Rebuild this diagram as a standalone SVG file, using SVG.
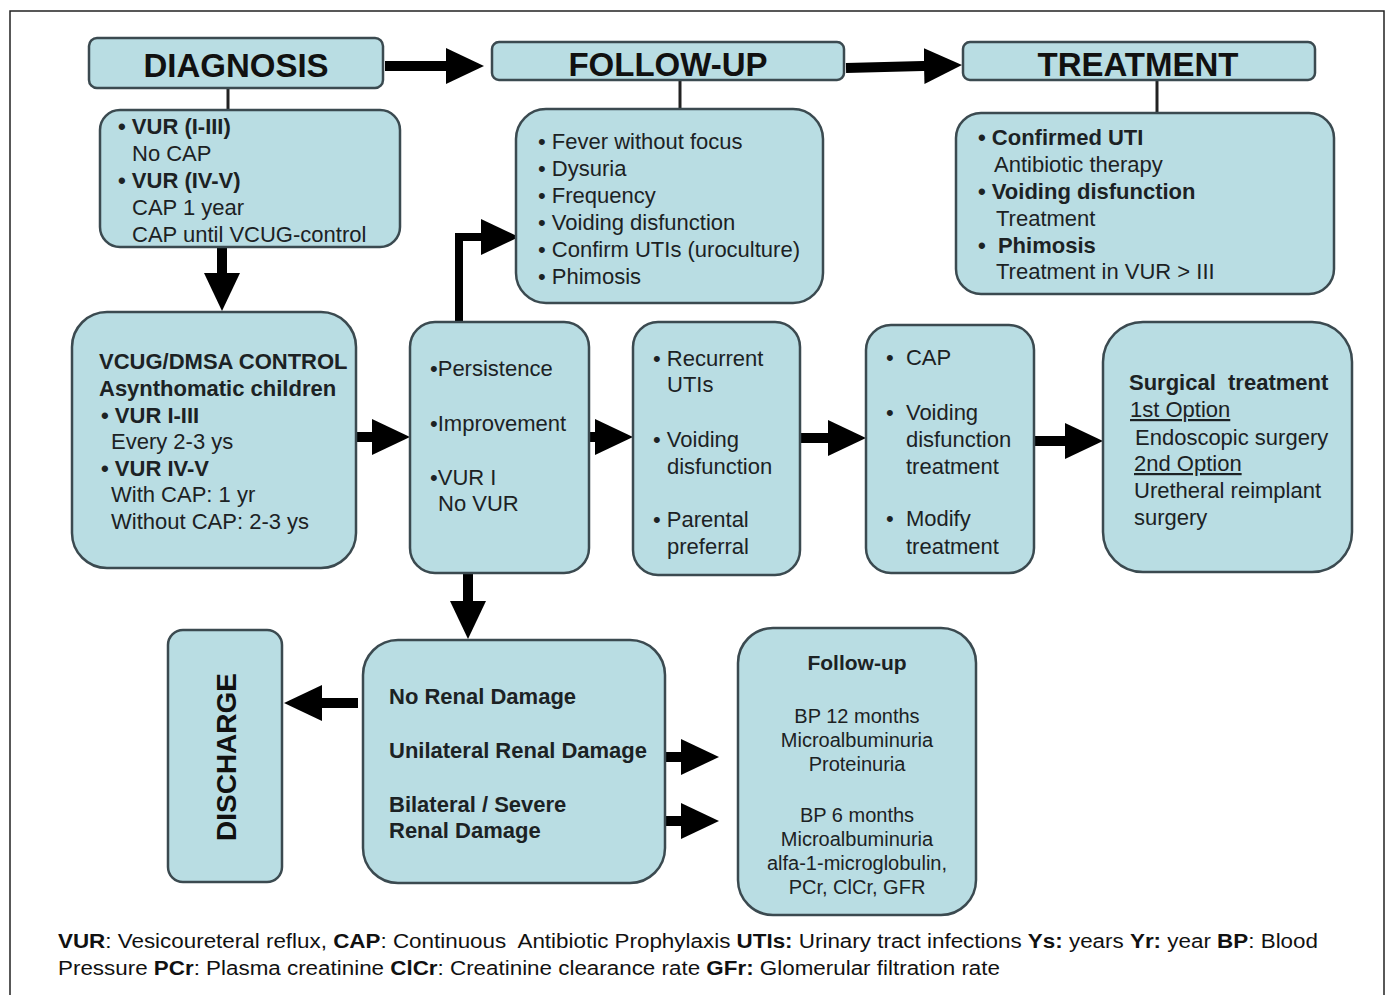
<svg xmlns="http://www.w3.org/2000/svg" width="1387" height="995" viewBox="0 0 1387 995">
<defs>
<style>
.box{fill:#b9dde3;stroke:#3b4a50;stroke-width:2.5}
.t{font-family:"Liberation Sans",Arial,sans-serif;font-size:22px;fill:#1c2224}
.s{font-family:"Liberation Sans",Arial,sans-serif;font-size:20px;fill:#1c2224;text-anchor:middle}
.b{font-weight:bold}
.h{font-family:"Liberation Sans",Arial,sans-serif;font-size:33px;font-weight:bold;fill:#111;text-anchor:middle}
.f{font-family:"Liberation Sans",Arial,sans-serif;font-size:20px;fill:#111}
.arr{stroke:#000;stroke-width:10;fill:none;marker-end:url(#ah)}
.ln{stroke:#222;stroke-width:3;fill:none}
</style>
<marker id="ah" markerUnits="userSpaceOnUse" markerWidth="38" markerHeight="36" refX="18" refY="18" orient="auto">
<path d="M0,0 L38,18 L0,36 z" fill="#000"/>
</marker>
</defs>
<rect x="0" y="0" width="1387" height="995" fill="#fff"/>
<rect x="10" y="11" width="1374" height="1000" fill="none" stroke="#222" stroke-width="1.5"/>

<g id="connectors">
<line class="ln" x1="228" y1="88" x2="228" y2="110"/>
<line class="ln" x1="680" y1="80" x2="680" y2="109"/>
<line class="ln" x1="1157" y1="80" x2="1157" y2="113"/>
<line class="arr" x1="385" y1="66" x2="464" y2="66"/>
<line class="arr" x1="846" y1="68" x2="942" y2="65.5"/>
<line class="arr" x1="222" y1="247" x2="222" y2="291"/>
<line class="arr" x1="356" y1="437" x2="390" y2="437"/>
<polyline class="arr" points="459,322 459,237 499,237" style="stroke-width:8"/>
<line class="arr" x1="589" y1="437" x2="613" y2="437"/>
<line class="arr" x1="800" y1="438" x2="846" y2="438"/>
<line class="arr" x1="1034" y1="441" x2="1083" y2="441"/>
<line class="arr" x1="468" y1="573" x2="468" y2="619"/>
<line class="arr" x1="358" y1="703" x2="304" y2="703"/>
<line class="arr" x1="665" y1="757" x2="699" y2="757"/>
<line class="arr" x1="665" y1="821" x2="699" y2="821"/>
</g>

<g id="diagnosis">
<rect class="box" x="89" y="38" width="294" height="50" rx="8"/>
<text class="h" x="236" y="77">DIAGNOSIS</text>
</g>
<g id="followup">
<rect class="box" x="492" y="42" width="352" height="38" rx="7"/>
<text class="h" x="668" y="76">FOLLOW-UP</text>
</g>
<g id="treatment">
<rect class="box" x="963" y="42" width="352" height="38" rx="7"/>
<text class="h" x="1138" y="76">TREATMENT</text>
</g>

<g id="diag-detail">
<rect class="box" x="100" y="110" width="300" height="137" rx="20"/>
<text class="t b" x="118" y="134">• VUR (I-III)</text>
<text class="t" x="132" y="161">No CAP</text>
<text class="t b" x="118" y="188">• VUR (IV-V)</text>
<text class="t" x="132" y="215">CAP 1 year</text>
<text class="t" x="132" y="242">CAP until VCUG-control</text>
</g>

<g id="followup-detail">
<rect class="box" x="516" y="109" width="307" height="194" rx="30"/>
<text class="t" x="538" y="149">• Fever without focus</text>
<text class="t" x="538" y="176">• Dysuria</text>
<text class="t" x="538" y="203">• Frequency</text>
<text class="t" x="538" y="230">• Voiding disfunction</text>
<text class="t" x="538" y="257">• Confirm UTIs (uroculture)</text>
<text class="t" x="538" y="284">• Phimosis</text>
</g>

<g id="treatment-detail">
<rect class="box" x="956" y="113" width="378" height="181" rx="25"/>
<text class="t b" x="978" y="145">• Confirmed UTI</text>
<text class="t" x="994" y="172">Antibiotic therapy</text>
<text class="t b" x="978" y="199">• Voiding disfunction</text>
<text class="t" x="996" y="226">Treatment</text>
<text class="t b" x="978" y="253" xml:space="preserve">•  Phimosis</text>
<text class="t" x="996" y="279">Treatment in VUR &gt; III</text>
</g>

<g id="vcug">
<rect class="box" x="72" y="312" width="284" height="256" rx="35"/>
<text class="t b" x="99" y="369">VCUG/DMSA CONTROL</text>
<text class="t b" x="99" y="396">Asynthomatic children</text>
<text class="t b" x="101" y="423">• VUR I-III</text>
<text class="t" x="111" y="449">Every 2-3 ys</text>
<text class="t b" x="101" y="476">• VUR IV-V</text>
<text class="t" x="111" y="502">With CAP: 1 yr</text>
<text class="t" x="111" y="529">Without CAP: 2-3 ys</text>
</g>

<g id="persistence">
<rect class="box" x="410" y="322" width="179" height="251" rx="25"/>
<text class="t" x="430" y="376">•Persistence</text>
<text class="t" x="430" y="431">•Improvement</text>
<text class="t" x="430" y="485">•VUR I</text>
<text class="t" x="438" y="511">No VUR</text>
</g>

<g id="recurrent">
<rect class="box" x="633" y="322" width="167" height="253" rx="25"/>
<text class="t" x="653" y="366">• Recurrent</text>
<text class="t" x="667" y="392">UTIs</text>
<text class="t" x="653" y="447">• Voiding</text>
<text class="t" x="667" y="474">disfunction</text>
<text class="t" x="653" y="527">• Parental</text>
<text class="t" x="667" y="554">preferral</text>
</g>

<g id="cap">
<rect class="box" x="866" y="325" width="168" height="248" rx="25"/>
<text class="t" x="886" y="365" xml:space="preserve">•  CAP</text>
<text class="t" x="886" y="420" xml:space="preserve">•  Voiding</text>
<text class="t" x="906" y="447">disfunction</text>
<text class="t" x="906" y="474">treatment</text>
<text class="t" x="886" y="526" xml:space="preserve">•  Modify</text>
<text class="t" x="906" y="554">treatment</text>
</g>

<g id="surgical">
<rect class="box" x="1103" y="322" width="249" height="250" rx="40"/>
<text class="t b" x="1129" y="390" xml:space="preserve">Surgical  treatment</text>
<text class="t" x="1130" y="417" text-decoration="underline">1st Option</text>
<text class="t" x="1135" y="445">Endoscopic surgery</text>
<text class="t" x="1134" y="471" text-decoration="underline">2nd Option</text>
<text class="t" x="1134" y="498">Uretheral reimplant</text>
<text class="t" x="1134" y="525">surgery</text>
</g>

<g id="discharge">
<rect class="box" x="168" y="630" width="114" height="252" rx="15"/>
<text class="h" transform="translate(236,757) rotate(-90)" style="font-size:28px">DISCHARGE</text>
</g>

<g id="renal">
<rect class="box" x="363" y="640" width="302" height="243" rx="35"/>
<text class="t b" x="389" y="704">No Renal Damage</text>
<text class="t b" x="389" y="758">Unilateral Renal Damage</text>
<text class="t b" x="389" y="812">Bilateral / Severe</text>
<text class="t b" x="389" y="838">Renal Damage</text>
</g>

<g id="followup-renal">
<rect class="box" x="738" y="628" width="238" height="287" rx="35"/>
<text class="s b" x="857" y="670" style="font-size:21px">Follow-up</text>
<text class="s" x="857" y="723">BP 12 months</text>
<text class="s" x="857" y="747">Microalbuminuria</text>
<text class="s" x="857" y="771">Proteinuria</text>
<text class="s" x="857" y="822">BP 6 months</text>
<text class="s" x="857" y="846">Microalbuminuria</text>
<text class="s" x="857" y="870">alfa-1-microglobulin,</text>
<text class="s" x="857" y="894">PCr, ClCr, GFR</text>
</g>

<g id="legend">
<text class="f" x="58" y="948" textLength="1260" lengthAdjust="spacingAndGlyphs" xml:space="preserve"><tspan class="b">VUR</tspan>: Vesicoureteral reflux, <tspan class="b">CAP</tspan>: Continuous  Antibiotic Prophylaxis <tspan class="b">UTIs:</tspan> Urinary tract infections <tspan class="b">Ys:</tspan> years <tspan class="b">Yr:</tspan> year <tspan class="b">BP</tspan>: Blood</text>
<text class="f" x="58" y="975" textLength="942" lengthAdjust="spacingAndGlyphs">Pressure <tspan class="b">PCr</tspan>: Plasma creatinine <tspan class="b">ClCr</tspan>: Creatinine clearance rate <tspan class="b">GFr:</tspan> Glomerular filtration rate</text>
</g>
</svg>
